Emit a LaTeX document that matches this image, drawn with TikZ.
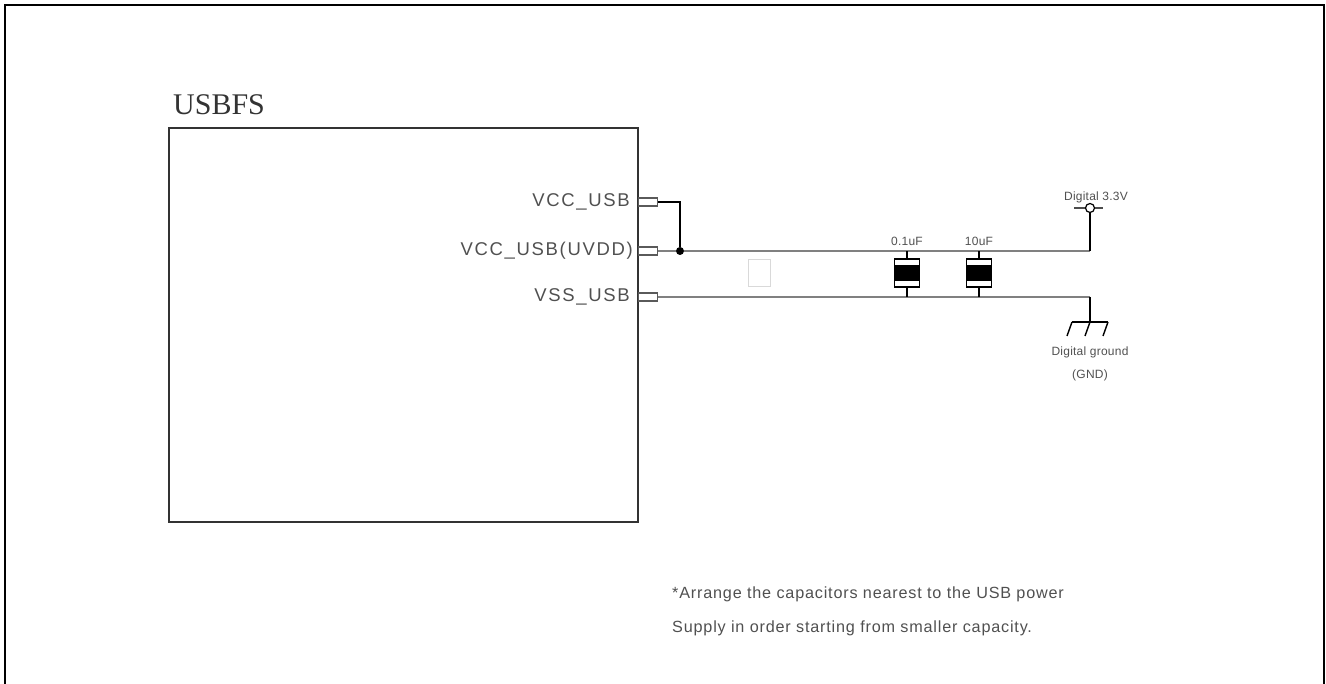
\documentclass[tikz,border=0pt]{standalone}
\usepackage{fontspec}
\setmainfont{Liberation Serif}
\newfontfamily\pinfont[LetterSpace=9]{Liberation Sans}
\newfontfamily\notefont[LetterSpace=5]{Liberation Sans}
\newfontfamily\smallfont[LetterSpace=2]{Liberation Sans}
\definecolor{txt}{HTML}{505050}
\definecolor{wire}{HTML}{808080}
\begin{document}
\begin{tikzpicture}[x=1pt,y=-1pt,
  pinbox/.style={draw=wire!70!black,line width=1.3pt,fill=white,minimum width=19pt,minimum height=8pt,inner sep=0pt,anchor=west},
  pinlabel/.style={font=\pinfont\fontsize{18.5}{18.5}\selectfont,text=txt,anchor=east,inner sep=0pt},
  small/.style={font=\smallfont\fontsize{12}{12}\selectfont,text=txt,inner sep=0pt},
  graywire/.style={draw=wire,line width=2.4pt},
  blackwire/.style={draw=black,line width=1.4pt},
  capbox/.style={draw=black,line width=1.4pt,fill=white,minimum width=25pt,minimum height=28pt,inner sep=0pt,
    path picture={\fill[black] ([yshift=-6pt]path picture bounding box.north west) rectangle ([yshift=6pt]path picture bounding box.south east);}},
  note/.style={font=\notefont\fontsize{16.2}{16.2}\selectfont,text=txt,anchor=base west,inner sep=0pt}
]
\useasboundingbox (0,0) rectangle (1326,684);
% outer frame
\draw[line width=2pt] (5,684) -- (5,5) -- (1324,5) -- (1324,684);
% chip
\node[draw=black!80,line width=2pt,minimum width=469pt,minimum height=394pt,anchor=north west,inner sep=0pt] (usb) at (168,127) {};
\node[font=\fontsize{30}{30}\selectfont,text=black!80,anchor=base west,inner sep=0pt] (title) at (173,115) {USBFS};
% pins
\node[pinbox] (pin1) at (638,202) {};
\node[pinbox] (pin2) at (638,251) {};
\node[pinbox] (pin3) at (638,297) {};
\node[pinlabel] (l1) at (630,202) {VCC\_USB};
\node[pinlabel] (l2) at (633,251) {VCC\_USB(UVDD)};
\node[pinlabel] (l3) at (630,297) {VSS\_USB};
% junction
\node[circle,fill=black,minimum size=8pt,inner sep=0pt] (j) at (680,251) {};
\coordinate (vcccorner) at (1090,251);
\coordinate (gndcorner) at (1090,297);
% supply symbol
\node[circle,draw=black,line width=1.2pt,minimum size=9pt,inner sep=0pt] (vcc) at (1090,208) {};
\draw[line width=1.4pt,draw=black!70] (1074,208) -- (vcc.west) (vcc.east) -- (1103,208);
\node[small,anchor=base] (vcclabel) at (1096,201) {Digital 3.3V};
% ground symbol
\coordinate (gnd) at (1090,322);
\coordinate (gl) at (1072,322);
\coordinate (gr) at (1108,322);
\draw[blackwire] (gl) -- (gr);
\draw[blackwire] (gl) -- ++(-5,14) (gnd) -- ++(-5,14) (gr) -- ++(-5,14);
\node[small,anchor=base] (gndlabel1) at (1090,356) {Digital ground};
\node[small,anchor=base] (gndlabel2) at (1090,379) {(GND)};
% capacitors
\node[capbox] (cap1) at (907,273) {};
\node[capbox] (cap2) at (979,273) {};
\node[small,anchor=base] (c1l) at (907,246) {0.1uF};
\node[small,anchor=base] (c2l) at (979,246) {10uF};
% faint box
\node[draw=black!15,line width=1pt,minimum width=22pt,minimum height=27pt,inner sep=0pt] (faint) at (759,273) {};
% wires
\draw[blackwire] (pin1.east) -| (j);
\draw[graywire] (pin2.east) -- (j);
\draw[graywire] (j) -- (vcccorner);
\draw[blackwire] (vcccorner) -- (vcc.south);
\draw[graywire] (pin3.east) -- (gndcorner);
\draw[blackwire] (gndcorner) -- (gnd);
\draw[blackwire] (cap1.north) -- (cap1.north |- j);
\draw[blackwire] (cap1.south) -- (cap1.south |- gndcorner);
\draw[blackwire] (cap2.north) -- (cap2.north |- j);
\draw[blackwire] (cap2.south) -- (cap2.south |- gndcorner);
% note
\node[note] (n1) at (672,598) {*Arrange the capacitors nearest to the USB power};
\node[note] (n2) at (672,632) {Supply in order starting from smaller capacity.};
\end{tikzpicture}
\end{document}
